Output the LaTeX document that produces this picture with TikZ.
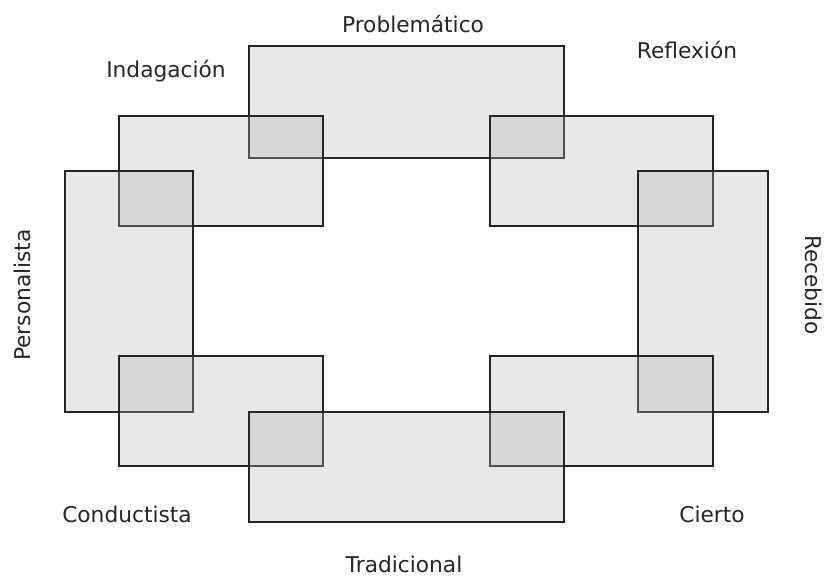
\documentclass[tikz,border=0pt]{standalone}
\usepackage{fontspec}
\setmainfont{DejaVu Sans}

\tikzset{
  area/.style={line width=1.1pt, draw=black!85, fill=black!30, fill opacity=0.3},
  tag/.style={font=\fontsize{16.3}{19}\selectfont, text=black!85, inner sep=0pt}
}

\begin{document}
\begin{tikzpicture}[x=0.75pt, y=-0.75pt]
\useasboundingbox (0,0) rectangle (831,578);

\filldraw[area] (249, 46) rectangle (564, 158);
\filldraw[area] (119, 116) rectangle (323, 226);
\filldraw[area] (490, 116) rectangle (713, 226);
\filldraw[area] (65, 171) rectangle (193, 412);
\filldraw[area] (638, 171) rectangle (768, 412);
\filldraw[area] (119, 356) rectangle (323, 466);
\filldraw[area] (490, 356) rectangle (713, 466);
\filldraw[area] (249, 412) rectangle (564, 522);

\node[tag] (problematico) at (413, 24) {Problemático};
\node[tag] (indagacion) at (166, 71) {Indagación};
\node[tag] (reflexion) at (687, 50) {Reflexión};
\node[tag, rotate=90] (personalista) at (22, 295) {Personalista};
\node[tag, rotate=-90] (recebido) at (814, 285) {Recebido};
\node[tag] (conductista) at (127, 514) {Conductista};
\node[tag] (cierto) at (712, 514) {Cierto};
\node[tag] (tradicional) at (404, 564) {Tradicional};
\end{tikzpicture}
\end{document}
